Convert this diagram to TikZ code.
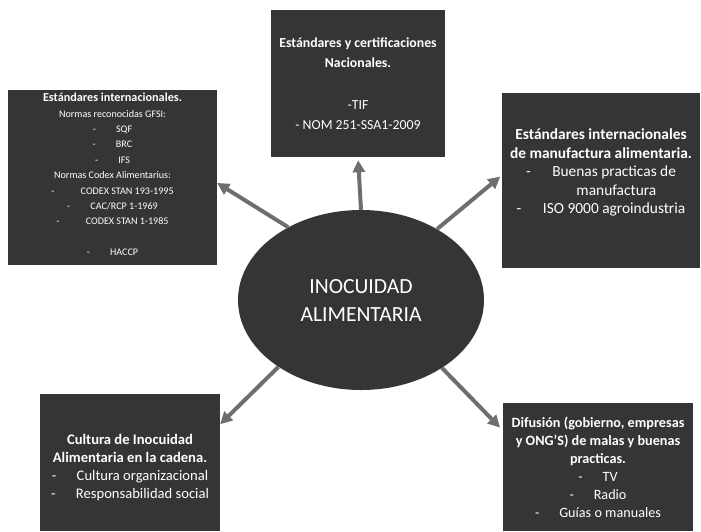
\documentclass[tikz,border=0pt]{standalone}
\usepackage{fontspec}
\setmainfont{Carlito}
\usetikzlibrary{arrows.meta,shapes.geometric}
\definecolor{boxgray}{HTML}{353535}
\definecolor{arrgray}{HTML}{6E6E6E}
\tikzset{
  darkbox/.style={rectangle, fill=boxgray, text=white, align=center, inner sep=0pt},
  link/.style={draw=arrgray, line width=4pt, -{Triangle[length=12pt,width=12pt]}},
}
\newcommand{\dash}[1]{-\hspace{#1}}
\begin{document}
\begin{tikzpicture}[x=1pt,y=-1pt]
  \useasboundingbox (0,0) rectangle (701,531);
  % centre
  \node (ia) [ellipse, fill=boxgray, text=white, align=center, inner sep=0pt,
    minimum width=246pt, minimum height=180pt, font=\fontsize{21.6}{28}\selectfont] at (361,300)
    {INOCUIDAD\\ALIMENTARIA};
  % boxes round it
  \node (nac) [darkbox, minimum width=174pt, minimum height=147pt, font=\fontsize{13.8}{20.5}\selectfont] at (358,83.5)
    {\textbf{Estándares y certificaciones}\\\textbf{Nacionales.}\\[21pt]-TIF\\- NOM 251-SSA1-2009};
  \node (intl) [darkbox, minimum width=209pt, minimum height=175pt, text depth=6pt, font=\fontsize{10.1}{15.4}\selectfont] at (112.5,177.5)
    {\textbf{\fontsize{12.2}{15.4}\selectfont Estándares internacionales.}\\
     Normas reconocidas GFSI:\\
     \dash{2em}SQF\\ \dash{2em}BRC\\ \dash{2em}IFS\\
     Normas Codex Alimentarius:\\
     \dash{2.6em}CODEX STAN 193-1995\\
     \dash{2em}CAC/RCP 1-1969\\
     \dash{2.6em}CODEX STAN 1-1985\\[15.4pt]
     \dash{2em}HACCP};
  \node (manu) [darkbox, minimum width=198pt, minimum height=175pt, text depth=18pt, font=\fontsize{15.4}{18.5}\selectfont] at (601,180.5)
    {\textbf{Estándares internacionales}\\\textbf{de manufactura alimentaria.}\\
     \dash{1.4em}Buenas practicas de\\\hspace{2em}manufactura\\
     \dash{1.4em}ISO 9000 agroindustria};
  \node (cult) [darkbox, minimum width=180pt, minimum height=137pt, font=\fontsize{14.6}{18}\selectfont] at (130,462.5)
    {\rule{0pt}{20pt}\textbf{Cultura de Inocuidad}\\\textbf{Alimentaria en la cadena.}\\
     \dash{1.4em}Cultura organizacional\\\dash{1.4em}Responsabilidad social};
  \node (dif) [darkbox, minimum width=190pt, minimum height=128pt, font=\fontsize{14.2}{18}\selectfont] at (598,467)
    {\textbf{Difusión (gobierno, empresas}\\\textbf{y ONG’S) de malas y buenas}\\\textbf{practicas.}\\
     \dash{1.4em}TV\\\dash{1.4em}Radio\\\dash{1.4em}Guías o manuales};
  % arrows
  \draw [link, shorten >=3pt] (ia.north) -- (nac.south);
  \draw [link] (ia.135) -- (intl.-3);
  \draw [link, shorten >=2pt] (ia.43) -- (manu.177);
  \draw [link] (ia.219) -- (cult.23);
  \draw [link, shorten >=4pt] (ia.320) -- (dif.159);
\end{tikzpicture}
\end{document}
